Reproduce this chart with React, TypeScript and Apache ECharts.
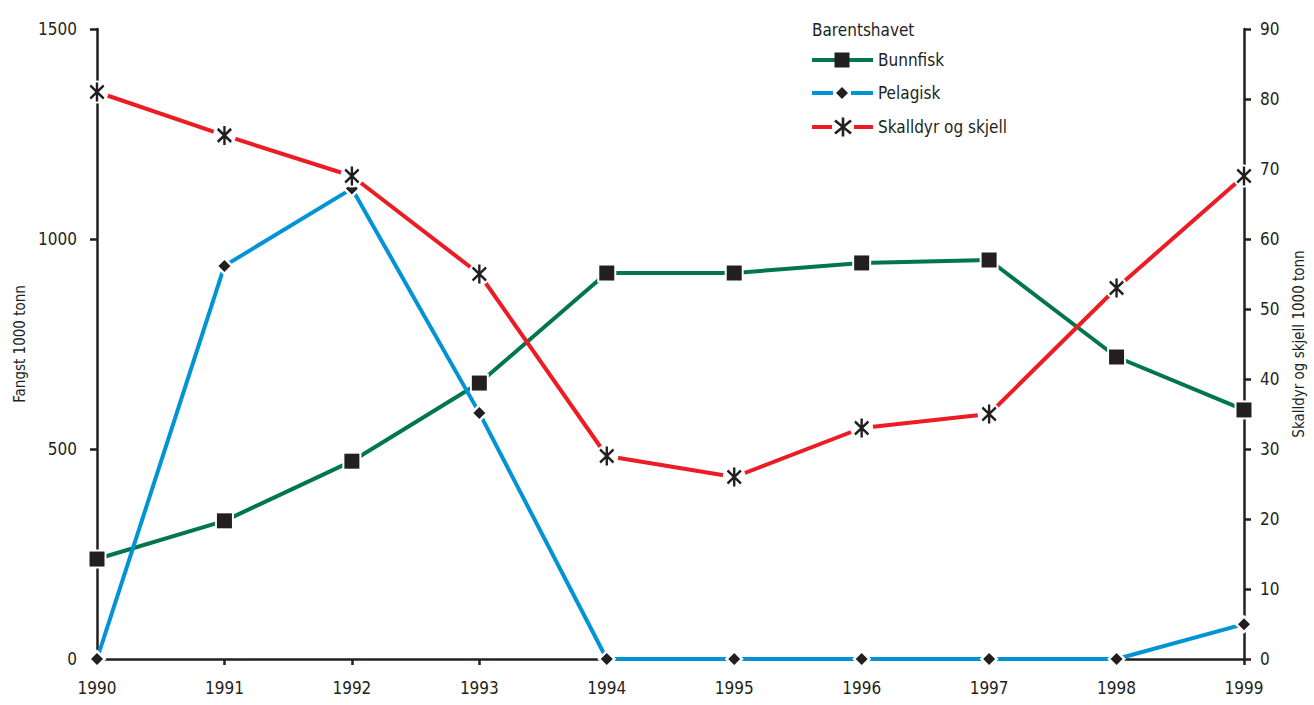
import React, { useEffect, useRef } from "react";
import * as echarts from "echarts";

const years = ["1990", "1991", "1992", "1993", "1994", "1995", "1996", "1997", "1998", "1999"];
const bunnfisk = [238, 329, 471, 657, 919, 919, 943, 950, 719, 593];
const pelagisk = [0, 936, 1120, 586, 0, 0, 0, 0, 0, 83];
const skalldyr = [81, 74.8, 69, 55, 29, 26, 33, 35, 53, 69];
const legendTitle = "Barentshavet";
const names = ["Bunnfisk", "Pelagisk", "Skalldyr og skjell"];
const leftName = "Fangst 1000 tonn";
const rightName = "Skalldyr og skjell 1000 tonn";

const FONT = "'Liberation Sans Narrow', 'DejaVu Sans Condensed', sans-serif";
const INK = "#231F20";
const GREEN = "#00774A";
const BLUE = "#0093D5";
const RED = "#ED1C24";
const STAR = "path://M0,3 L16,16 M16,3 L0,16 M8,0 L8,19";
const TICK_FS = 17;
const LEG_FS = 17;
const NAME_FS = 15;

export default function App() {
  const ref = useRef<HTMLDivElement>(null);
  useEffect(() => {
    if (!ref.current) return;
    const chart = echarts.init(ref.current, null, { renderer: "svg" });
    const axisLine = { show: true, lineStyle: { color: INK, width: 2.5 } };
    const axisTick = { show: true, length: 7, lineStyle: { color: INK, width: 2.5 } };
    const label = { color: INK, fontFamily: FONT, fontSize: TICK_FS, formatter: (v: any) => String(v) };

    const layer = (data: number[], yi: number, color: string, shape: string, size: any, halo: string, haloSize: any, zb: number, starStroke = false) => [
      {
        type: "line", data, yAxisIndex: yi, symbol: "none", z: zb,
        lineStyle: { color, width: 4 }, silent: true,
      },
      {
        type: "scatter", data, yAxisIndex: yi, symbol: halo, symbolSize: haloSize, z: zb + 1,
        itemStyle: { color: "#ffffff", opacity: 1 }, silent: true,
      },
      {
        type: "scatter", data, yAxisIndex: yi, symbol: shape, symbolSize: size, z: zb + 2, symbolKeepAspect: true,
        itemStyle: starStroke
          ? { color: "rgba(0,0,0,0)", borderColor: INK, borderWidth: 2.6, opacity: 1 }
          : { color: INK, opacity: 1 },
        silent: true,
      },
    ];

    const lx = 812, mx = 842, rx = 873, tx = 878;
    const rows = [60, 93, 127];
    const tstyle = (text: string) => ({ text, fill: INK, font: `${LEG_FS}px ${FONT}`, textVerticalAlign: "middle" });
    const legendChildren: any[] = [
      { type: "text", x: lx, y: 30, style: tstyle(legendTitle) },
      { type: "line", shape: { x1: lx, y1: rows[0], x2: rx, y2: rows[0] }, style: { stroke: GREEN, lineWidth: 4 } },
      { type: "rect", shape: { x: mx - 7.5, y: rows[0] - 7.5, width: 15, height: 15 }, style: { fill: INK } },
      { type: "text", x: tx, y: rows[0], style: tstyle(names[0]) },
      { type: "line", shape: { x1: lx, y1: rows[1], x2: mx - 9, y2: rows[1] }, style: { stroke: BLUE, lineWidth: 4 } },
      { type: "line", shape: { x1: mx + 9, y1: rows[1], x2: rx, y2: rows[1] }, style: { stroke: BLUE, lineWidth: 4 } },
      { type: "polygon", shape: { points: [[mx, rows[1] - 6], [mx + 6, rows[1]], [mx, rows[1] + 6], [mx - 6, rows[1]]] }, style: { fill: INK } },
      { type: "text", x: tx, y: rows[1], style: tstyle(names[1]) },
      { type: "line", shape: { x1: lx, y1: rows[2], x2: mx - 10, y2: rows[2] }, style: { stroke: RED, lineWidth: 4 } },
      { type: "line", shape: { x1: mx + 12, y1: rows[2], x2: rx, y2: rows[2] }, style: { stroke: RED, lineWidth: 4 } },
      { type: "line", shape: { x1: mx + 1, y1: rows[2] - 9.5, x2: mx + 1, y2: rows[2] + 9.5 }, style: { stroke: INK, lineWidth: 2.6 } },
      { type: "line", shape: { x1: mx - 7, y1: rows[2] - 6.5, x2: mx + 9, y2: rows[2] + 6.5 }, style: { stroke: INK, lineWidth: 2.6 } },
      { type: "line", shape: { x1: mx + 9, y1: rows[2] - 6.5, x2: mx - 7, y2: rows[2] + 6.5 }, style: { stroke: INK, lineWidth: 2.6 } },
      { type: "text", x: tx, y: rows[2], style: tstyle(names[2]) },
    ];

    chart.setOption({
      animation: false,
      backgroundColor: "#ffffff",
      grid: { left: 97, right: 70, top: 29, bottom: 46, containLabel: false, outerBoundsMode: "none" },
      xAxis: {
        type: "category", data: years, boundaryGap: false,
        axisLine, axisTick: { ...axisTick, length: 6 },
        axisLabel: { ...label, margin: 20 },
        splitLine: { show: false },
      },
      yAxis: [
        {
          type: "value", min: 0, max: 1500, interval: 500, position: "left",
          axisLine, axisTick, splitLine: { show: false },
          axisLabel: { ...label, margin: 20 },
          name: leftName, nameLocation: "middle", nameGap: 70, nameRotate: 90,
          nameTextStyle: { color: INK, fontFamily: FONT, fontSize: NAME_FS },
        },
        {
          type: "value", min: 0, max: 90, interval: 10, position: "right",
          axisLine, axisTick, splitLine: { show: false },
          axisLabel: { ...label, margin: 16 },
          name: rightName, nameLocation: "middle", nameGap: 47, nameRotate: 90,
          nameTextStyle: { color: INK, fontFamily: FONT, fontSize: NAME_FS },
        },
      ],
      series: [
        ...layer(bunnfisk, 0, GREEN, "rect", 15, "rect", 19, 2),
        ...layer(pelagisk, 0, BLUE, "diamond", 12, "diamond", 19, 5),
        ...layer(skalldyr, 1, RED, STAR, [16, 19], "circle", 23, 8, true),
      ],
      graphic: { elements: [{ type: "group", z: 20, children: legendChildren }] },
    });
    return () => chart.dispose();
  }, []);
  return <div ref={ref} style={{ position: "fixed", left: 0, top: 0, width: 1314, height: 705, background: "#fff" }} />;
}
